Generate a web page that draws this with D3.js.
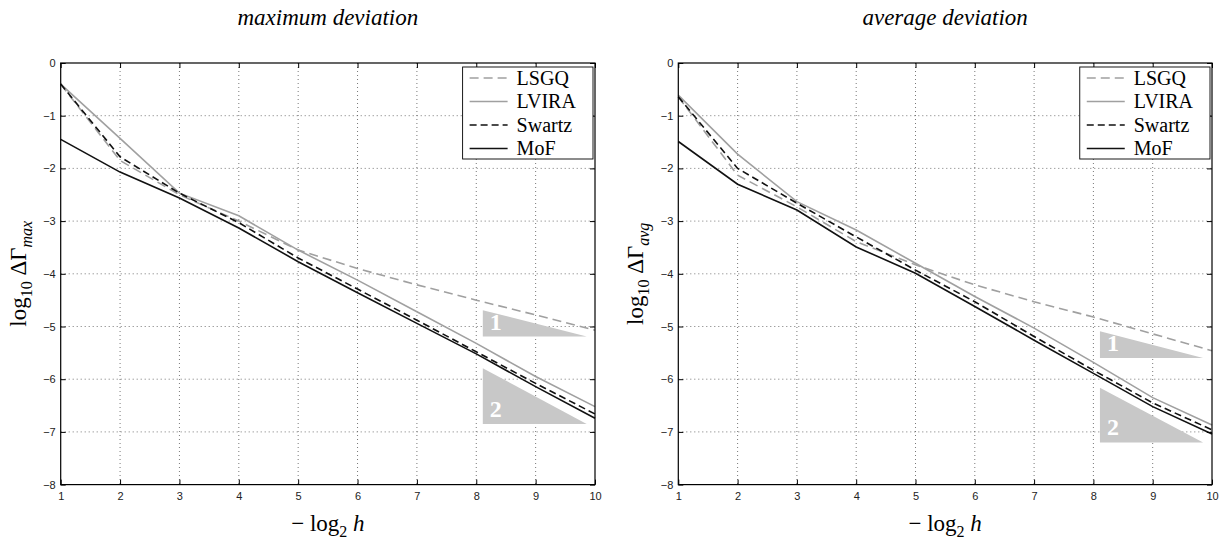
<!DOCTYPE html>
<html>
<head>
<meta charset="utf-8">
<script src="https://cdn.jsdelivr.net/npm/d3@7"></script>
<style>
  body { margin: 0; background: #fff; }
  svg { display: block; }
</style>
</head>
<body>
<script>
// x = -log2 h, y = log10 of the deviation
var levels = [1, 2, 3, 4, 5, 6, 7, 8, 9, 10];
var xTicks = [1, 2, 3, 4, 5, 6, 7, 8, 9, 10];
var yTicks = [0, -1, -2, -3, -4, -5, -6, -7, -8];
var methods = ["LSGQ", "LVIRA", "Swartz", "MoF"];

var maxLSGQ   = [-0.40, -1.85, -2.50, -3.00, -3.55, -3.90, -4.21, -4.50, -4.78, -5.07];
var maxLVIRA  = [-0.40, -1.43, -2.47, -2.90, -3.55, -4.12, -4.72, -5.32, -5.95, -6.52];
var maxSwartz = [-0.40, -1.78, -2.47, -3.03, -3.70, -4.29, -4.88, -5.48, -6.08, -6.66];
var maxMoF    = [-1.45, -2.07, -2.56, -3.13, -3.77, -4.36, -4.94, -5.52, -6.14, -6.74];

var avgLSGQ   = [-0.64, -2.13, -2.73, -3.39, -3.83, -4.21, -4.53, -4.82, -5.14, -5.46];
var avgLVIRA  = [-0.61, -1.73, -2.63, -3.17, -3.80, -4.43, -5.03, -5.68, -6.35, -6.87];
var avgSwartz = [-0.64, -2.00, -2.66, -3.30, -3.93, -4.53, -5.19, -5.83, -6.45, -6.96];
var avgMoF    = [-1.49, -2.30, -2.79, -3.49, -3.99, -4.62, -5.26, -5.89, -6.52, -7.04];

// slope triangles, in data units: [label, xLeft, xRight, yTop, yBottom]
var maxTriangles = [["1", 8.11, 9.86, -4.69, -5.19], ["2", 8.11, 9.86, -5.79, -6.85]];
var avgTriangles = [["1", 8.11, 9.85, -5.09, -5.60], ["2", 8.11, 9.85, -6.16, -7.20]];

var styles = {
  LSGQ:   {color: "#a0a0a0", dash: "9,5"},
  LVIRA:  {color: "#a0a0a0", dash: null},
  Swartz: {color: "#111",    dash: "7,4"},
  MoF:    {color: "#111",    dash: null}
};

var W = 1231, H = 544;
var svg = d3.select("body").append("svg").attr("width", W).attr("height", H);

function panel(left, right, title, sub, series, triangles) {
  var top = 63, bottom = 484.6;
  var x = d3.scaleLinear().domain([1, 10]).range([left, right]);
  var y = d3.scaleLinear().domain([-8, 0]).range([bottom, top]);
  var g = svg.append("g");

  // grid
  g.selectAll(".gx").data(xTicks.slice(1, -1)).enter().append("line")
    .attr("x1", d => x(d)).attr("x2", d => x(d))
    .attr("y1", top).attr("y2", bottom)
    .attr("stroke", "#555").attr("stroke-width", 0.8).attr("stroke-dasharray", "1,3");
  g.selectAll(".gy").data(yTicks.slice(1, -1)).enter().append("line")
    .attr("y1", d => y(d)).attr("y2", d => y(d))
    .attr("x1", left).attr("x2", right)
    .attr("stroke", "#555").attr("stroke-width", 0.8).attr("stroke-dasharray", "1,3");

  // triangles
  triangles.forEach(function(t) {
    g.append("path")
      .attr("d", "M" + x(t[1]) + "," + y(t[3]) + "V" + y(t[4]) + "H" + x(t[2]) + "Z")
      .attr("fill", "#c8c8c8");
    g.append("text")
      .attr("x", x(t[1]) + 7).attr("y", y(t[4]) - 7)
      .attr("font-family", "Liberation Serif, serif").attr("font-size", 24)
      .attr("font-weight", "bold")
      .attr("fill", "#fff").text(t[0]);
  });

  // lines
  var line = d3.line().x((d, i) => x(levels[i])).y(d => y(d));
  methods.forEach(function(m, k) {
    g.append("path").datum(series[k])
      .attr("d", line)
      .attr("fill", "none")
      .attr("stroke", styles[m].color)
      .attr("stroke-width", 1.6)
      .attr("stroke-dasharray", styles[m].dash);
  });

  // box with inward ticks on all sides
  g.append("rect").attr("x", left).attr("y", top)
    .attr("width", right - left).attr("height", bottom - top)
    .attr("fill", "none").attr("stroke", "#000").attr("stroke-width", 1.2);

  var axB = d3.axisBottom(x).tickValues(xTicks).tickSize(-5).tickPadding(8).tickFormat(d3.format("d"));
  var axT = d3.axisTop(x).tickValues(xTicks).tickSize(-5).tickFormat("");
  var axL = d3.axisLeft(y).tickValues(yTicks).tickSize(-5).tickPadding(5)
    .tickFormat(d => d === 0 ? "0" : "\u2212" + Math.abs(d));
  var axR = d3.axisRight(y).tickValues(yTicks).tickSize(-5).tickFormat("");

  [[axB, "translate(0," + bottom + ")"], [axT, "translate(0," + top + ")"],
   [axL, "translate(" + left + ",0)"], [axR, "translate(" + right + ",0)"]].forEach(function(a) {
    var ag = g.append("g").attr("transform", a[1]).call(a[0]);
    ag.select(".domain").remove();
    ag.selectAll("line").attr("stroke", "#000");
    ag.selectAll("text").attr("font-family", "Liberation Sans, Arial, sans-serif")
      .attr("font-size", 11).attr("fill", "#222");
  });

  // legend
  var lx = x(7.77), ly = 67, lw = right - 2 - x(7.77), lh = 92;
  g.append("rect").attr("x", lx).attr("y", ly).attr("width", lw).attr("height", lh)
    .attr("fill", "#fff").attr("stroke", "#000").attr("stroke-width", 0.9);
  methods.forEach(function(m, k) {
    var yy = ly + 11 + k * 23.5;
    g.append("line").attr("x1", lx + 7).attr("x2", lx + 45)
      .attr("y1", yy).attr("y2", yy)
      .attr("stroke", styles[m].color).attr("stroke-width", 1.6)
      .attr("stroke-dasharray", styles[m].dash);
    g.append("text").attr("x", lx + 54).attr("y", yy + 6.5)
      .attr("font-family", "Liberation Serif, serif").attr("font-size", 20)
      .attr("fill", "#000").text(m);
  });

  // title
  svg.append("text").attr("x", (left + right) / 2).attr("y", 25)
    .attr("text-anchor", "middle").attr("font-family", "Liberation Serif, serif")
    .attr("font-style", "italic").attr("font-size", 23).text(title);

  // x label
  var xl = svg.append("text").attr("x", (left + right) / 2).attr("y", 531)
    .attr("text-anchor", "middle").attr("font-family", "Liberation Serif, serif")
    .attr("font-size", 23);
  xl.append("tspan").text("\u2212 log");
  xl.append("tspan").attr("dy", 6).attr("font-size", 16).text("2");
  xl.append("tspan").attr("dy", -6).text(" ");
  xl.append("tspan").attr("font-style", "italic").text("h");

  // y label
  var yl = svg.append("text")
    .attr("transform", "translate(" + (left - 35) + "," + ((top + bottom) / 2) + ") rotate(-90)")
    .attr("text-anchor", "middle").attr("font-family", "Liberation Serif, serif")
    .attr("font-size", 23);
  yl.append("tspan").text("log");
  yl.append("tspan").attr("dy", 6).attr("font-size", 16).text("10");
  yl.append("tspan").attr("dy", -6).text(" \u0394\u0393");
  yl.append("tspan").attr("dy", 6).attr("font-size", 16).attr("font-style", "italic").text(sub);
}

panel(60.7, 595, "maximum deviation", "max",
  [maxLSGQ, maxLVIRA, maxSwartz, maxMoF], maxTriangles);
panel(678.3, 1212, "average deviation", "avg",
  [avgLSGQ, avgLVIRA, avgSwartz, avgMoF], avgTriangles);
</script>
</body>
</html>
